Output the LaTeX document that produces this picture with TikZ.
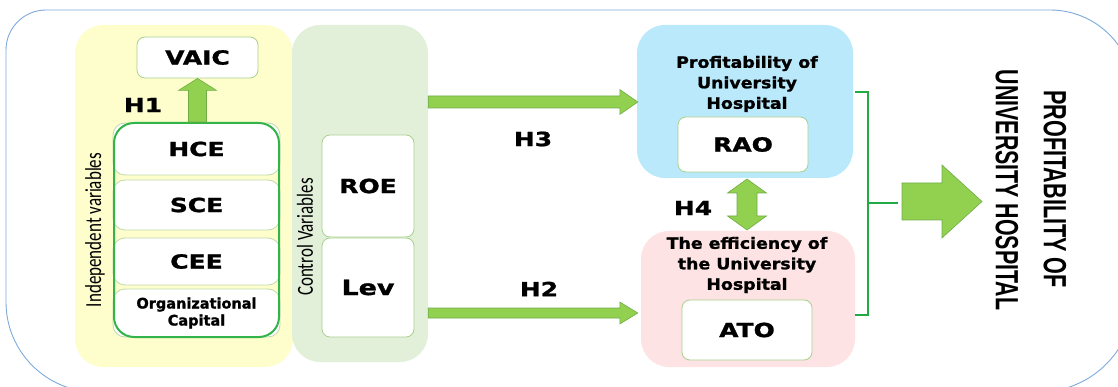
\documentclass[tikz,border=0pt]{standalone}
\usepackage{fontspec}
\setmainfont{Carlito}
\newfontfamily\dvs{DejaVu Sans}[BoldFeatures={FakeBold=1.2}]
\newfontfamily\lbs{Liberation Sans}
\newfontfamily\carl{Carlito}
\usetikzlibrary{calc}
\definecolor{outerc}{HTML}{7EAADC}
\definecolor{yelc}{HTML}{FEFDCC}
\definecolor{grnc}{HTML}{E2F0D9}
\definecolor{bluc}{HTML}{B9E9FB}
\definecolor{pnkc}{HTML}{FDE3E3}
\definecolor{boxc}{HTML}{A9D18E}
\definecolor{inboxc}{HTML}{BFD9AE}
\definecolor{grpc}{HTML}{33B44A}
\definecolor{arrf}{HTML}{92D050}
\definecolor{arrd}{HTML}{70AD47}
\definecolor{brkc}{HTML}{22AA44}
\newcommand\W[1]{\scalebox{1.28}[1]{#1}}
\newcommand\Ws[1]{\scalebox{1.12}[1]{#1}}
\newcommand\rarrow[5]{\draw[blockarrow] let \p1=(#1),\p2=(#2) in (\x1,\y1+#3) -- (\x2-#5,\y1+#3) -- (\x2-#5,\y1+#4) -- (\x2,\y1) -- (\x2-#5,\y1-#4) -- (\x2-#5,\y1-#3) -- (\x1,\y1-#3) -- cycle;}
\newcommand\uarrow[5]{\draw[blockarrow] let \p1=(#1),\p2=(#2) in (\x1+#3,\y1) -- (\x1+#3,\y2-#5) -- (\x1+#4,\y2-#5) -- (\x1,\y2) -- (\x1-#4,\y2-#5) -- (\x1-#3,\y2-#5) -- (\x1-#3,\y1) -- cycle;}
\newcommand\dblarrow[5]{\draw[blockarrow] let \p1=(#1),\p2=(#2) in (\x1,\y1) -- (\x1+#4,\y1-#5) -- (\x1+#3,\y1-#5) -- (\x1+#3,\y2+#5) -- (\x1+#4,\y2+#5) -- (\x1,\y2) -- (\x1-#4,\y2+#5) -- (\x1-#3,\y2+#5) -- (\x1-#3,\y1-#5) -- (\x1-#4,\y1-#5) -- cycle;}
\begin{document}
\begin{tikzpicture}[x=1pt,y=-1pt,
  panel/.style={rounded corners=28pt, inner sep=0pt, draw=none},
  box/.style={draw=boxc, line width=0.8pt, fill=white, rounded corners=8pt, inner sep=0pt, font=\dvs\bfseries\fontsize{19.5}{22}\selectfont},
  inbox/.style={box, draw=inboxc, rounded corners=12pt},
  lab/.style={inner sep=0pt, font=\dvs\bfseries\fontsize{19.5}{22}\selectfont},
  title/.style={inner sep=0pt, align=center, font=\dvs\bfseries\fontsize{15.5}{20.5}\selectfont},
  side/.style={inner sep=0pt, rotate=90, font=\carl\fontsize{17}{20}\selectfont},
  big/.style={inner sep=0pt, rotate=-90, font=\lbs\bfseries\fontsize{24}{28}\selectfont},
  blockarrow/.style={fill=arrf, draw=arrd, line width=0.6pt, line join=miter},
  brk/.style={draw=brkc, line width=2.2pt}]
\useasboundingbox (0,0) rectangle (1118,387);
\clip (0,0) rectangle (1118,387);
% outer frame
\draw[outerc, line width=0.9pt] (46,10) -- (1050,10) arc[start angle=-90,end angle=0,radius=84] -- (1134,297) arc[start angle=0,end angle=90,radius=95] -- (96,392) arc[start angle=90,end angle=180,radius=90] -- (6,50) arc[start angle=180,end angle=270,radius=40] -- cycle;
% panels
\node[panel, fill=yelc, minimum width=218pt, minimum height=342pt] (indep) at (184,196) {};
\node[panel, fill=grnc, minimum width=136pt, minimum height=337pt] (ctrl) at (360,193.5) {};
\node[panel, fill=bluc, minimum width=216pt, minimum height=153pt] (prof) at (745,101.5) {};
\node[panel, fill=pnkc, minimum width=214pt, minimum height=136pt] (eff) at (748,299) {};
% boxes
\node[box, minimum width=121pt, minimum height=41pt] (VAIC) at (197.5,57.5) {\W{VAIC}};
\node[inbox, minimum width=167pt, minimum height=52pt] (HCE) at (196.5,149) {\W{HCE}};
\node[inbox, minimum width=167pt, minimum height=50pt] (SCE) at (196.5,205) {\W{SCE}};
\node[inbox, minimum width=167pt, minimum height=47pt] (CEE) at (196.5,261.5) {\W{CEE}};
\node[inbox, minimum width=167pt, minimum height=48pt, align=center, font=\dvs\bfseries\fontsize{14.5}{17}\selectfont] (ORG) at (196.5,313) {Organizational\\Capital};
\node[draw=grpc, line width=2pt, rounded corners=20pt, minimum width=165pt, minimum height=214pt, inner sep=0pt] (grp) at (196.5,230) {};
\node[box, minimum width=92pt, minimum height=102pt] (ROE) at (368,186) {\W{ROE}};
\node[box, minimum width=92pt, minimum height=99pt, font=\dvs\bfseries\fontsize{21}{24}\selectfont] (LEV) at (368,287.5) {\W{Lev}};
\node[box, minimum width=130pt, minimum height=55pt] (RAO) at (743,144.5) {\W{RAO}};
\node[box, minimum width=130pt, minimum height=60pt] (ATO) at (747,330) {\W{ATO}};
% titles
\node[title] (proft) at (747,84) {\Ws{Profitability of}\\\Ws{University}\\\Ws{Hospital}};
\node[title] (efft) at (747,265) {\Ws{The efficiency of}\\\Ws{the University}\\\Ws{Hospital}};
% side labels
\node[side] (indlab) at (95,230) {\scalebox{1}[1.35]{Independent variables}};
\node[side] (ctrllab) at (305,237) {\scalebox{1}[1.35]{Control Variables}};
% right title
\node[big] (bigP) at (1055,189) {\scalebox{0.9}[1.34]{PROFITABILITY OF}};
\node[big] (bigU) at (1007,190) {\scalebox{0.89}[1.34]{UNIVERSITY HOSPITAL}};
% arrows
\coordinate (h1s) at (VAIC.south |- grp.north);
\uarrow{h1s}{VAIC.south}{9pt}{19pt}{12pt}
\coordinate (h3y) at (0,102);
\coordinate (h3s) at (ctrl.east |- h3y);
\coordinate (h3e) at ($(prof.west |- h3y)+(1,0)$);
\rarrow{h3s}{h3e}{6pt}{12.5pt}{18pt}
\coordinate (h2y) at (0,313);
\coordinate (h2s) at (ctrl.east |- h2y);
\coordinate (h2e) at ($(prof.west |- h2y)+(1,0)$);
\rarrow{h2s}{h2e}{5pt}{11pt}{18pt}
\coordinate (h4a) at (747,179);
\coordinate (h4b) at (747,230);
\dblarrow{h4a}{h4b}{10pt}{19.5pt}{14pt}
% bracket
\coordinate (brT) at (855,92);
\coordinate (brB) at (855,315);
\coordinate (brM) at (868,203);
\coordinate (brE) at (898,203);
\draw[brk] (brT) -| (brB -| brM) -- (brB);
\draw[brk] (brM) -- (brE);
\coordinate (bigs) at (902,201.5);
\coordinate (bige) at (982,201.5);
\rarrow{bigs}{bige}{18.5pt}{36.5pt}{40pt}
% hypothesis labels
\node[lab] (H1) at (143,105) {\W{H1}};
\node[lab] (H3) at (533,139) {\W{H3}};
\node[lab] (H2) at (539,289) {\W{H2}};
\node[lab] (H4) at (693,208) {\W{H4}};
\end{tikzpicture}
\end{document}
